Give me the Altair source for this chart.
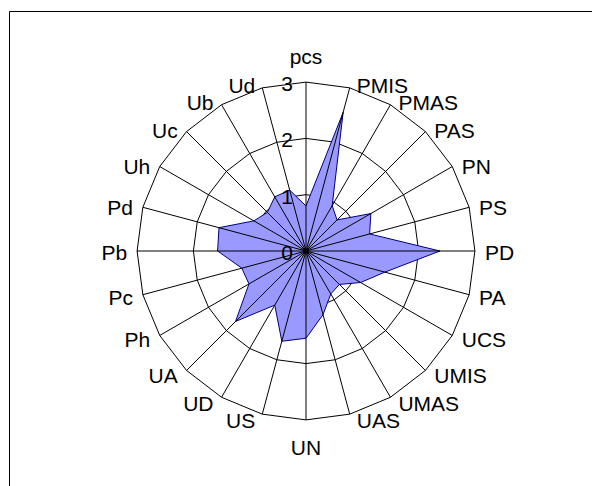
import altair as alt
import numpy as np
import pandas as pd

categories = ["pcs", "PMIS", "PMAS", "PAS", "PN", "PS", "PD", "PA", "UCS", "UMIS",
              "UMAS", "UAS", "UN", "US", "UD", "UA", "Ph", "Pc", "Pb", "Pd",
              "Uh", "Uc", "Ub", "Ud"]
values = [0.80, 2.55, 0.93, 0.78, 1.33, 1.17, 2.38, 1.45, 1.12, 0.84,
          0.88, 1.17, 1.55, 1.66, 1.11, 1.77, 1.17, 1.18, 1.57, 1.60,
          1.07, 0.97, 1.11, 1.12]
ring_values = [1, 2, 3]
tick_values = [0, 1, 2, 3]
tick_labels = ["0", "1", "2", "3"]

W, H = 584, 478
CX, CY = 298, 243
U = 56.3
RMAX = 3
FONT = "Liberation Sans"
FS = 21

n = len(categories)
ang = np.deg2rad(np.arange(n) * 360.0 / n)
s, c = np.sin(ang), np.cos(ang)

xs = alt.Scale(domain=[-CX / U, (W - CX) / U], nice=False, zero=False)
ys = alt.Scale(domain=[-(H - CY) / U, CY / U], nice=False, zero=False)
X = lambda f: alt.X(f, type="quantitative", scale=xs, axis=None)
Y = lambda f: alt.Y(f, type="quantitative", scale=ys, axis=None)

# series polygon
poly = pd.DataFrame({"i": np.arange(n), "x": np.array(values) * s, "y": np.array(values) * c})

# rings
rings = pd.DataFrame([{"ring": r, "i": i, "x": r * s[i], "y": r * c[i]}
                      for r in ring_values for i in range(n)])

# spokes
spokes = pd.DataFrame({"x": 0.0, "y": 0.0, "x2": RMAX * s, "y2": RMAX * c})

# category labels
rows = []
for i, name in enumerate(categories):
    rx, ry = RMAX * s[i], RMAX * c[i]
    if abs(s[i]) < 0.05:
        al = "center"
        lx = rx
        ly = ry + (18 / U if c[i] > 0 else -35 / U)
    else:
        al = "left" if s[i] > 0 else "right"
        gap = 6 + 4 * abs(s[i])
        lx = rx + np.sign(s[i]) * gap / U
        down = 3 + (-4 * c[i] if c[i] > 0 else -5 * c[i])
        ly = ry - down / U
    rows.append({"label": name, "x": lx, "y": ly, "al": al})
labs = pd.DataFrame(rows)

ticks = pd.DataFrame({"label": tick_labels, "x": -13 / U,
                      "y": [v - 3 / U for v in tick_values]})

ring_layer = alt.Chart(rings).mark_line(
    interpolate="linear-closed", color="black", strokeWidth=1
).encode(x=X("x"), y=Y("y"), detail="ring:N", order="i:Q")

poly_layer = alt.Chart(poly).mark_line(
    interpolate="linear-closed", filled=True, fill="#9999FF", stroke="#000080",
    strokeWidth=1, fillOpacity=1
).encode(x=X("x"), y=Y("y"), order="i:Q")

spoke_layer = alt.Chart(spokes).mark_rule(color="black", strokeWidth=1).encode(
    x=X("x"), y=Y("y"), x2="x2", y2="y2")

def text_layer(al, baseline):
    return alt.Chart(labs[labs.al == al]).mark_text(
        align=al, baseline=baseline, font=FONT, fontSize=FS, color="black"
    ).encode(x=X("x"), y=Y("y"), text="label:N")

lab_left = text_layer("left", "middle")
lab_right = text_layer("right", "middle")
lab_center = text_layer("center", "alphabetic")

tick_layer = alt.Chart(ticks).mark_text(
    align="right", baseline="middle", font=FONT, fontSize=FS, color="black"
).encode(x=X("x"), y=Y("y"), text="label:N")

one = pd.DataFrame({"k": [0]})
frame_top = alt.Chart(one).mark_rule(color="black", strokeWidth=1).encode(
    x=alt.value(1.5), x2=alt.value(W), y=alt.value(3.5))
frame_left = alt.Chart(one).mark_rule(color="black", strokeWidth=1).encode(
    x=alt.value(1.5), y=alt.value(3.5), y2=alt.value(H))

chart = alt.layer(
    ring_layer, poly_layer, spoke_layer, lab_left, lab_right, lab_center,
    tick_layer, frame_top, frame_left
).properties(
    width=W, height=H, autosize=alt.AutoSizeParams(type="none"), padding=0,
    background="white"
).configure_view(stroke=None)

chart.save("out.html", embed_options={"renderer": "svg", "actions": False})
